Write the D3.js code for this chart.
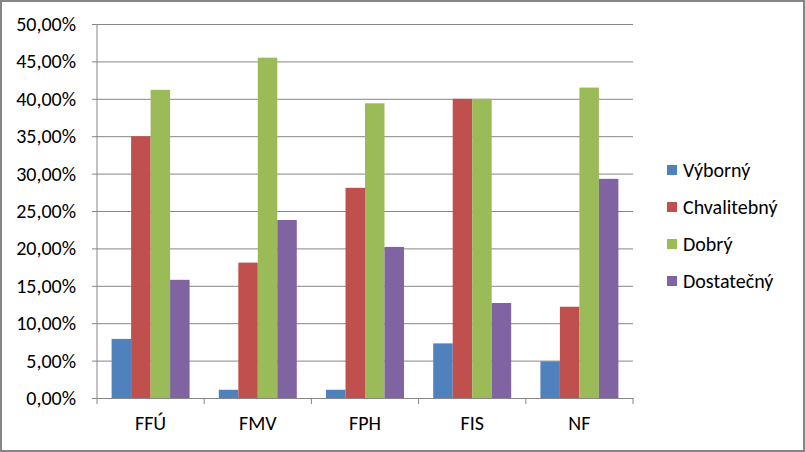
<!DOCTYPE html>
<html>
<head>
<meta charset="utf-8">
<script src="https://cdn.jsdelivr.net/npm/d3@7"></script>
<style>
  body { margin: 0; background: #fff; }
  svg text { font-family: Carlito, Lato, "Open Sans", sans-serif; fill: #000; }
</style>
</head>
<body>
<div id="chart"></div>
<script>
const categories = ['FFÚ', 'FMV', 'FPH', 'FIS', 'NF'];
const seriesNames = ['Výborný', 'Chvalitebný', 'Dobrý', 'Dostatečný'];
const vyborny = [7.9, 1.1, 1.1, 7.3, 4.9];
const chvalitebny = [35.0, 18.1, 28.1, 40.0, 12.2];
const dobry = [41.2, 45.5, 39.4, 40.0, 41.5];
const dostatecny = [15.8, 23.8, 20.2, 12.7, 29.3];
const yTicks = [0, 5, 10, 15, 20, 25, 30, 35, 40, 45, 50];
const colors = ['#4F81BD', '#C0504D', '#9BBB59', '#8064A2'];

const series = [vyborny, chvalitebny, dobry, dostatecny];

const W = 805, H = 452;
const plot = { left: 97, right: 633, top: 24, bottom: 398 };

const svg = d3.select('#chart').append('svg')
  .attr('width', W)
  .attr('height', H);

// outer border
svg.append('rect')
  .attr('x', 1).attr('y', 1)
  .attr('width', W - 2).attr('height', H - 2)
  .attr('fill', '#fff')
  .attr('stroke', '#868686')
  .attr('stroke-width', 2);

const x = d3.scaleBand()
  .domain(categories)
  .range([plot.left, plot.right])
  .paddingInner(0)
  .paddingOuter(0);

const xInner = d3.scaleBand()
  .domain(d3.range(seriesNames.length))
  .range([0, x.bandwidth()])
  .paddingOuter(0.75)
  .paddingInner(0);

const y = d3.scaleLinear()
  .domain([0, 50])
  .range([plot.bottom, plot.top]);

// gridlines + y ticks
const yAxis = svg.append('g')
  .attr('transform', `translate(${plot.left},0)`)
  .call(d3.axisLeft(y)
    .tickValues(yTicks)
    .tickSize(-(plot.right - plot.left))
    .tickSizeOuter(0)
    .tickFormat(d => d3.format('.2f')(d).replace('.', ',') + '%'));
yAxis.select('.domain').remove();
yAxis.selectAll('.tick line')
  .attr('x1', -5)
  .attr('stroke', '#868686');
yAxis.selectAll('.tick text')
  .attr('font-size', 20)
  .attr('x', -21);

// bars
const groups = svg.append('g').selectAll('g')
  .data(categories)
  .enter()
  .append('g')
  .attr('transform', d => `translate(${x(d)},0)`);

groups.selectAll('rect')
  .data((d, i) => series.map((s, j) => ({ j: j, v: s[i] })))
  .enter()
  .append('rect')
  .attr('x', d => xInner(d.j))
  .attr('width', xInner.bandwidth())
  .attr('y', d => y(d.v))
  .attr('height', d => plot.bottom - y(d.v))
  .attr('fill', d => colors[d.j]);

// y axis line
svg.append('line')
  .attr('x1', plot.left).attr('x2', plot.left)
  .attr('y1', plot.top).attr('y2', plot.bottom)
  .attr('stroke', '#868686');

// x axis
const xAxis = svg.append('g')
  .attr('transform', `translate(0,${plot.bottom})`)
  .call(d3.axisBottom(x).tickSize(0).tickPadding(18));
xAxis.select('.domain').attr('stroke', '#868686');
xAxis.selectAll('.tick text').attr('font-size', 20);

svg.append('g').selectAll('line')
  .data(categories.concat([null]))
  .enter()
  .append('line')
  .attr('x1', (d, i) => i < categories.length ? x(d) : plot.right)
  .attr('x2', (d, i) => i < categories.length ? x(d) : plot.right)
  .attr('y1', plot.bottom)
  .attr('y2', plot.bottom + 6)
  .attr('stroke', '#868686');

// legend
const legend = svg.append('g')
  .attr('transform', 'translate(667,170)');
const items = legend.selectAll('g')
  .data(seriesNames)
  .enter()
  .append('g')
  .attr('transform', (d, i) => `translate(0,${i * 37})`);
items.append('rect')
  .attr('x', 0).attr('y', -5)
  .attr('width', 10).attr('height', 10)
  .attr('fill', (d, i) => colors[i]);
items.append('text')
  .attr('x', 16)
  .attr('dy', '0.35em')
  .attr('font-size', 20)
  .text(d => d);
</script>
</body>
</html>
